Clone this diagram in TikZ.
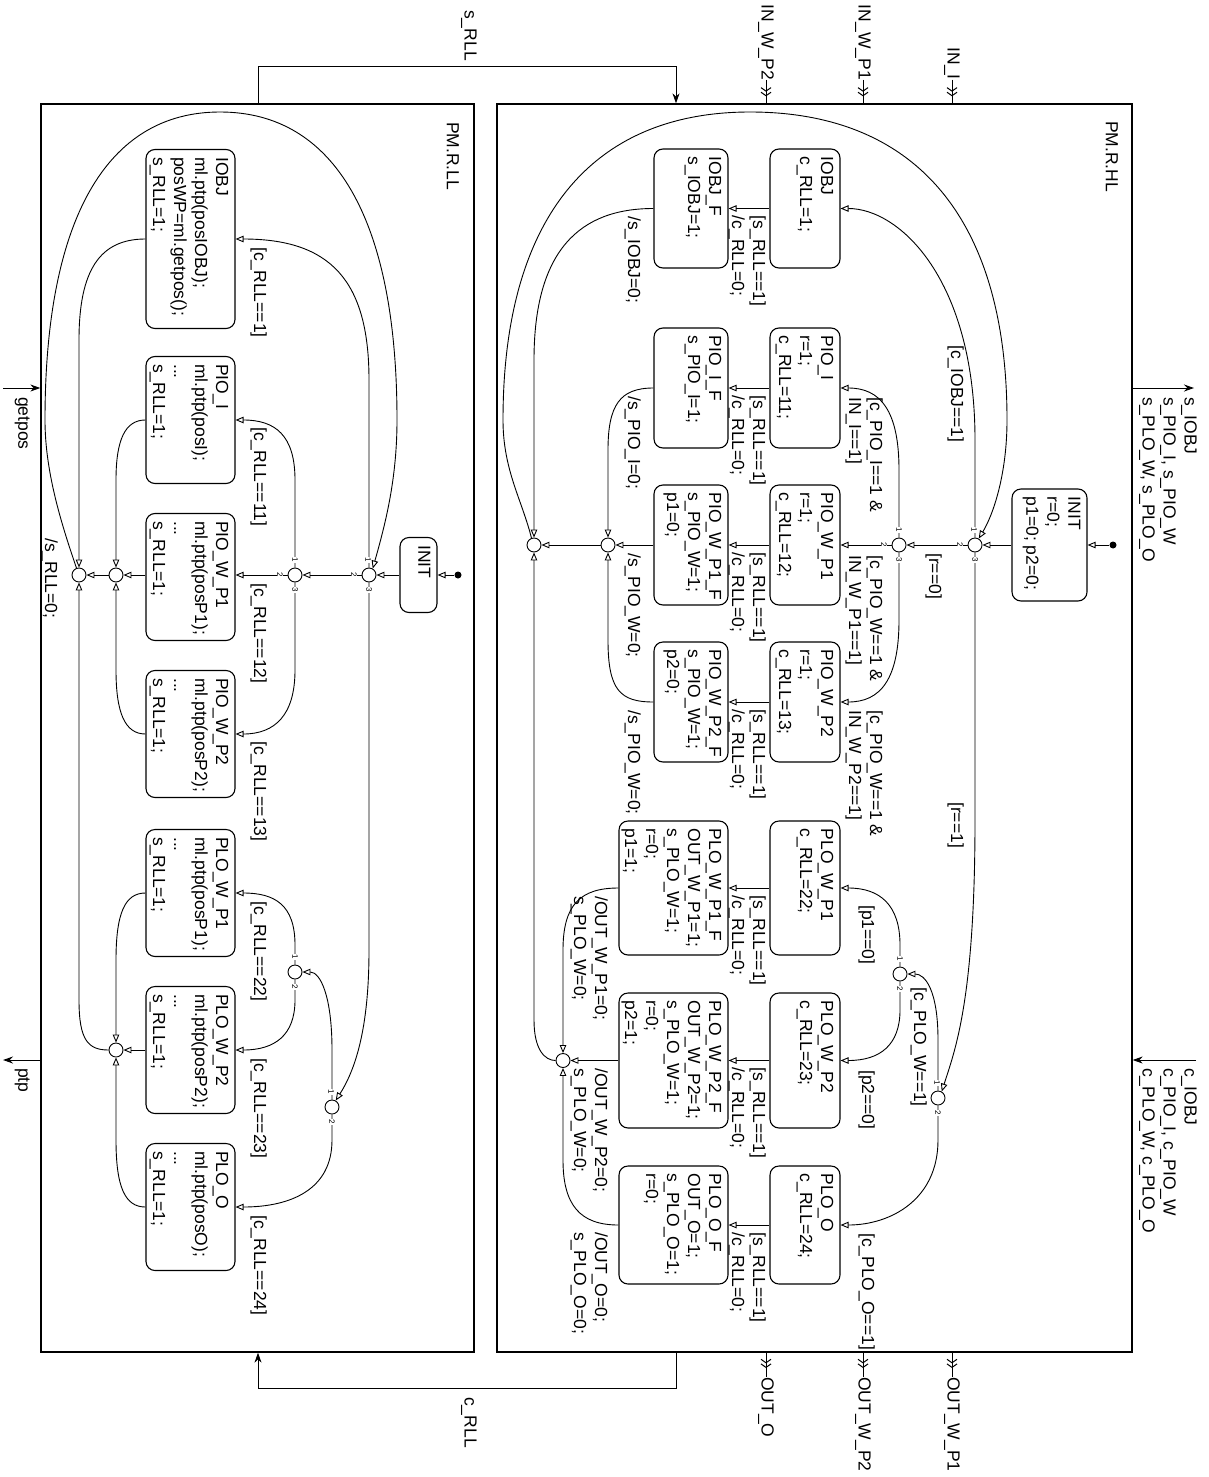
\documentclass[tikz,border=0pt]{standalone}
\usepackage{fontspec}
\setmainfont{Liberation Sans}
\usetikzlibrary{arrows.meta,calc}
\newcommand{\mkst}[6]{%
  \node[xst,minimum width=#4pt,minimum height=#5pt] (#1) at (#2,#3) {};
  \node[xtx] (t#1) at ($(#1.north east)+(-7,8)$) {#6};}
\begin{document}
\begin{tikzpicture}[x=1pt,y=-1pt,
  font=\fontsize{17.5}{21}\selectfont,
  xst/.style={draw,rounded corners=9pt,line width=1.1pt,inner sep=0pt},
  xtx/.style={rotate=-90,anchor=north west,align=left,inner sep=0pt},
  xjn/.style={circle,draw,line width=0.9pt,minimum size=14pt,inner sep=0pt},
  xnum/.style={rotate=-90,font=\fontsize{8}{9}\selectfont,fill=white,inner sep=0.5pt},
  xln/.style={line width=0.9pt},
  xtr/.style={line width=0.9pt,-{Triangle[open,length=8pt,width=6.5pt]}},
  xdbl/.style={line width=1pt,-{Straight Barb[length=3.5pt,width=10pt]Straight Barb[length=3.5pt,width=10pt]}},
  xsig/.style={line width=1pt,-{Stealth[length=10pt,width=7pt]}},
  xcont/.style={draw,line width=1.3pt,inner sep=0pt},
  xdot/.style={circle,fill,minimum size=7pt,inner sep=0pt},
  xio/.style={rotate=-90,inner sep=0pt}
]
\useasboundingbox (0,0) rectangle (1208,1477);

% containers
\node[xcont,minimum width=635pt,minimum height=1248pt] (hl) at (814.5,728) {};
\node[xcont,minimum width=433pt,minimum height=1248pt] (ll) at (257.5,728) {};
\node[xtx] (hlname) at (1118,121) {PM.R.HL};
\node[xtx] (llname) at (459,122) {PM.R.LL};

% inputs / outputs of HL
\node[xio,anchor=east] (inI) at (952,80) {IN\_I};
\node[xio,anchor=east] (inWa) at (863,80) {IN\_W\_P1};
\node[xio,anchor=east] (inWb) at (766,80) {IN\_W\_P2};
\foreach \n in {inI,inWa,inWb}{
  \draw[xln] (\n.east) -- (\n.east |- hl.north);
  \draw[xdbl,shorten >=7pt] (\n.east) -- (\n.east |- hl.north);}
\node[xio,anchor=west] (outO) at (766,1377) {OUT\_O};
\node[xio,anchor=west] (outWb) at (863,1377) {OUT\_W\_P2};
\node[xio,anchor=west] (outWa) at (952,1377) {OUT\_W\_P1};
\foreach \n in {outO,outWb,outWa}{
  \draw[xln] (\n.west |- hl.south) -- (\n.west);
  \draw[xdbl,shorten >=9pt] (\n.west |- hl.south) -- (\n.west);}

\node[xtx] (sout) at (1197,397) {s\_IOBJ\\s\_PIO\_I, s\_PIO\_W\\s\_PLO\_W, s\_PLO\_O};
\coordinate (soutE) at (1194,388);
\draw[xsig] (soutE -| hl.east) -- (soutE);
\node[xtx] (cin) at (1197,1068) {c\_IOBJ\\c\_PIO\_I, c\_PIO\_W\\c\_PLO\_W, c\_PLO\_O};
\coordinate (cinS) at (1196,1060);
\draw[xsig] (cinS) -- (cinS -| hl.east);

\node[xtx] (gp) at (30,397) {getpos};
\coordinate (gpS) at (3,388);
\draw[xsig] (gpS) -- (gpS -| ll.west);
\node[xtx] (ptp) at (30,1068) {ptp};
\coordinate (ptpE) at (3,1060);
\draw[xsig] (ptpE -| ll.west) -- (ptpE);

\coordinate (sA) at (258,67); \coordinate (sB) at (676,67);
\draw[xsig] (sA |- ll.north) -- (sA) -- (sB) -- (sB |- hl.north);
\node[xio,anchor=east] (sRLL) at (469,61) {s\_RLL};
\coordinate (cA) at (676,1388); \coordinate (cB) at (258,1388);
\draw[xsig] (cA |- hl.south) -- (cA) -- (cB) -- (cB |- ll.south);
\node[xio,anchor=west] (cRLL) at (469,1397) {c\_RLL};

% HL states
\mkst{hINIT}{1049.5}{545}{75}{112}{INIT\\r=0;\\p1=0; p2=0;}
\mkst{hIOBJ}{805}{208.5}{70}{119}{IOBJ\\c\_RLL=1;}
\mkst{hPIOI}{805}{388}{70}{120}{PIO\_I\\r=1;\\c\_RLL=11;}
\mkst{hPIOWa}{805}{545}{70}{120}{PIO\_W\_P1\\r=1;\\c\_RLL=12;}
\mkst{hPIOWb}{805}{702}{70}{120}{PIO\_W\_P2\\r=1;\\c\_RLL=13;}
\mkst{hPLOWa}{805}{888}{70}{134}{PLO\_W\_P1\\c\_RLL=22;}
\mkst{hPLOWb}{805}{1060.5}{70}{135}{PLO\_W\_P2\\c\_RLL=23;}
\mkst{hPLOO}{805}{1225}{70}{118}{PLO\_O\\c\_RLL=24;}
\mkst{fIOBJ}{691}{208.5}{74}{119}{IOBJ\_F\\s\_IOBJ=1;}
\mkst{fPIOI}{691}{388}{74}{120}{PIO\_I\_F\\s\_PIO\_I=1;}
\mkst{fPIOWa}{691}{545}{74}{120}{PIO\_W\_P1\_F\\s\_PIO\_W=1;\\p1=0;}
\mkst{fPIOWb}{691}{702}{74}{120}{PIO\_W\_P2\_F\\s\_PIO\_W=1;\\p2=0;}
\mkst{fPLOWa}{673.5}{888}{109}{134}{PLO\_W\_P1\_F\\OUT\_W\_P1=1;\\s\_PLO\_W=1;\\r=0;\\p1=1;}
\mkst{fPLOWb}{673.5}{1060.5}{109}{135}{PLO\_W\_P2\_F\\OUT\_W\_P2=1;\\s\_PLO\_W=1;\\r=0;\\p2=1;}
\mkst{fPLOO}{673.5}{1225}{109}{118}{PLO\_O\_F\\OUT\_O=1;\\s\_PLO\_O=1;\\r=0;}

% LL states
\mkst{lINIT}{418.5}{575}{37}{75}{INIT}
\mkst{lIOBJ}{190.5}{239}{89}{179}{IOBJ\\ml.ptp(posIOBJ);\\posWP=ml.getpos();\\s\_RLL=1;}
\mkst{lPIOI}{190.5}{420}{89}{127}{PIO\_I\\ml.ptp(posI);\\...\\s\_RLL=1;}
\mkst{lPIOWa}{190.5}{577}{89}{127}{PIO\_W\_P1\\ml.ptp(posP1);\\...\\s\_RLL=1;}
\mkst{lPIOWb}{190.5}{734}{89}{127}{PIO\_W\_P2\\ml.ptp(posP2);\\...\\s\_RLL=1;}
\mkst{lPLOWa}{190.5}{893}{89}{127}{PLO\_W\_P1\\ml.ptp(posP1);\\...\\s\_RLL=1;}
\mkst{lPLOWb}{190.5}{1050}{89}{127}{PLO\_W\_P2\\ml.ptp(posP2);\\...\\s\_RLL=1;}
\mkst{lPLOO}{190.5}{1207}{89}{127}{PLO\_O\\ml.ptp(posO);\\...\\s\_RLL=1;}

% junctions
\node[xjn] (J1) at (975,545) {};
\node[xjn] (J2) at (899,545) {};
\node[xjn] (J3) at (938,1098) {};
\node[xjn] (J4) at (900,974) {};
\node[xjn] (J5) at (534,545) {};
\node[xjn] (J6) at (608,545) {};
\node[xjn] (J7) at (563,1060.5) {};
\node[xdot] (hdot) at (1113,545) {};
\node[xjn] (K1) at (369,575) {};
\node[xjn] (K2) at (295,575) {};
\node[xjn] (K3) at (295,972) {};
\node[xjn] (K4) at (332,1107) {};
\node[xjn] (K5) at (79,575) {};
\node[xjn] (K6) at (116,575) {};
\node[xjn] (K7) at (116,1050) {};
\node[xdot] (ldot) at (458,575) {};

% HL transitions
\draw[xtr] (hdot) -- (hdot -| hINIT.east);
\draw[xtr] (hINIT.west) -- (J1);
\draw[xtr] (J1.north) -- (975,440) .. controls (975,280) and (900,208.5) .. (hIOBJ.east);
\draw[xtr] (J1) -- (J2);
\draw[xtr] (J1.south) -- (975,820) .. controls (975,1000) and (955,1050) .. (J3.60);
\draw[xtr] (J2.north) -- (899,470) .. controls (899,410) and (880,388) .. (hPIOI.east);
\draw[xtr] (J2.west) -- (hPIOWa.east);
\draw[xtr] (J2.south) -- (899,620) .. controls (899,680) and (880,702) .. (hPIOWb.east);
\draw[xtr] (J3.north) -- (938,1040) .. controls (938,990) and (925,974) .. (J4.east);
\draw[xtr] (J4.north) -- (900,945) .. controls (900,905) and (880,888) .. (hPLOWa.east);
\draw[xtr] (J4.south) -- (900,1010) .. controls (900,1045) and (880,1060.5) .. (hPLOWb.east);
\draw[xtr] (J3.south) -- (938,1140) .. controls (938,1200) and (890,1225) .. (hPLOO.east);
\foreach \a/\b in {hIOBJ/fIOBJ,hPIOI/fPIOI,hPIOWa/fPIOWa,hPIOWb/fPIOWb,hPLOWa/fPLOWa,hPLOWb/fPLOWb,hPLOO/fPLOO}
  \draw[xtr] (\a.west) -- (\b.east);
\draw[xtr] (fIOBJ.west) .. controls (580,208.5) and (534,250) .. (534,360) -- (J5.north);
\draw[xtr] (fPIOI.west) .. controls (620,388) and (608,405) .. (608,450) -- (J6.north);
\draw[xtr] (fPIOWa.west) -- (J6.east);
\draw[xtr] (fPIOWb.west) .. controls (620,702) and (608,690) .. (608,640) -- (J6.south);
\draw[xtr] (J6.west) -- (J5.east);
\draw[xtr] (fPLOWa.west) .. controls (580,888) and (563,905) .. (563,950) -- (J7.north);
\draw[xtr] (fPLOWb.west) -- (J7.east);
\draw[xtr] (fPLOO.west) .. controls (580,1225) and (563,1205) .. (563,1160) -- (J7.south);
\draw[xtr] (J7.west) .. controls (545,1060.5) and (534,1050) .. (534,1020) -- (J5.south);
\draw[xtr] (J5.110) .. controls (522,500) and (503,470) .. (503,420)
  .. controls (503,220) and (590,112) .. (750,112)
  .. controls (917,112) and (1007,220) .. (1007,420)
  .. controls (1007,475) and (993,515) .. (J1.60);

% LL transitions
\draw[xtr] (ldot) -- (ldot -| lINIT.east);
\draw[xtr] (lINIT.west) -- (K1);
\draw[xtr] (K1.north) -- (369,380) .. controls (369,280) and (330,239) .. (lIOBJ.east);
\draw[xtr] (K1) -- (K2);
\draw[xtr] (K1.south) -- (369,950) .. controls (369,1030) and (355,1070) .. (K4.60);
\draw[xtr] (K2.north) -- (295,480) .. controls (295,435) and (275,420) .. (lPIOI.east);
\draw[xtr] (K2.west) -- (K2 -| lPIOWa.east);
\draw[xtr] (K2.south) -- (295,670) .. controls (295,715) and (275,734) .. (lPIOWb.east);
\draw[xtr] (K4.north) -- (332,1050) .. controls (332,995) and (320,972) .. (K3.east);
\draw[xtr] (K3.north) -- (295,945) .. controls (295,905) and (275,893) .. (lPLOWa.east);
\draw[xtr] (K3.south) -- (295,1000) .. controls (295,1035) and (275,1050) .. (lPLOWb.east);
\draw[xtr] (K4.south) -- (332,1140) .. controls (332,1190) and (290,1207) .. (lPLOO.east);
\draw[xtr] (lIOBJ.west) .. controls (100,239) and (79,270) .. (79,340) -- (K5.north);
\draw[xtr] (lPIOI.west) .. controls (125,420) and (116,440) .. (116,480) -- (K6.north);
\draw[xtr] (K6 -| lPIOWa.west) -- (K6.east);
\draw[xtr] (lPIOWb.west) .. controls (125,734) and (116,713) .. (116,670) -- (K6.south);
\draw[xtr] (K6.west) -- (K5.east);
\draw[xtr] (lPLOWa.west) .. controls (125,893) and (116,913) .. (116,960) -- (K7.north);
\draw[xtr] (lPLOWb.west) -- (K7.east);
\draw[xtr] (lPLOO.west) .. controls (125,1207) and (116,1187) .. (116,1140) -- (K7.south);
\draw[xtr] (K7.west) .. controls (88,1050) and (79,1040) .. (79,1000) -- (K5.south);
\draw[xtr] (K5.110) .. controls (60,520) and (45,470) .. (45,420)
  .. controls (45,220) and (106,112) .. (220,112)
  .. controls (335,112) and (397,220) .. (397,420)
  .. controls (397,480) and (385,525) .. (K1.60);

% HL labels
\node[xtx] (lb1) at (964,345) {[c\_IOBJ==1]};
\node[xtx] (lb2) at (942,553) {[r==0]};
\node[xtx] (lb3) at (964,802) {[r==1]};
\node[xtx] (lb4) at (883,397) {[c\_PIO\_I==1 \&\\IN\_I==1]};
\node[xtx] (lb5) at (883,555) {[c\_PIO\_W==1 \&\\IN\_W\_P1==1]};
\node[xtx] (lb6) at (883,710) {[c\_PIO\_W==1 \&\\IN\_W\_P2==1]};
\node[xtx] (lb7) at (927,987) {[c\_PLO\_W==1]};
\node[xtx] (lb8) at (875,905) {[p1==0]};
\node[xtx] (lb9) at (875,1070) {[p2==0]};
\node[xtx] (lb10) at (875,1233) {[c\_PLO\_O==1]};
\foreach \y [count=\i] in {208.5,388,545,702,888,1060.5,1225}
  \node[xtx] (sl\i) at (766,\y+7) {[s\_RLL==1]\\/c\_RLL=0;};
\node[xtx] (el1) at (641,216) {/s\_IOBJ=0;};
\node[xtx] (el2) at (641,396) {/s\_PIO\_I=0;};
\node[xtx] (el3) at (641,553) {/s\_PIO\_W=0;};
\node[xtx] (el4) at (641,710) {/s\_PIO\_W=0;};
\node[xtx] (el5) at (608,896) {/OUT\_W\_P1=0;\\s\_PLO\_W=0;};
\node[xtx] (el6) at (608,1068) {/OUT\_W\_P2=0;\\s\_PLO\_W=0;};
\node[xtx] (el7) at (608,1232) {/OUT\_O=0;\\s\_PLO\_O=0;};

% LL labels
\node[xtx] (ll1) at (267,247) {[c\_RLL==1]};
\node[xtx] (ll2) at (267,427) {[c\_RLL==11]};
\node[xtx] (ll3) at (267,583) {[c\_RLL==12]};
\node[xtx] (ll4) at (267,741) {[c\_RLL==13]};
\node[xtx] (ll5) at (267,901) {[c\_RLL==22]};
\node[xtx] (ll6) at (267,1058) {[c\_RLL==23]};
\node[xtx] (ll7) at (267,1215) {[c\_RLL==24]};
\node[xtx] (ll8) at (58,538) {/s\_RLL=0;};

% junction numbers
\node[xnum] (a1) at (974,530) {1}; \node[xnum] (a2) at (960,545) {2}; \node[xnum] (a3) at (975,560) {3};
\node[xnum] (b1) at (899,530) {1}; \node[xnum] (b2) at (884,545) {2}; \node[xnum] (b3) at (899,560) {3};
\node[xnum] (c1) at (937,1083) {1}; \node[xnum] (c2) at (938,1113) {2};
\node[xnum] (d1) at (900,959) {1}; \node[xnum] (d2) at (900,989) {2};
\node[xnum] (e1) at (368,560) {1}; \node[xnum] (e2) at (354,575) {2}; \node[xnum] (e3) at (369,590) {3};
\node[xnum] (f1) at (295,560) {1}; \node[xnum] (f2) at (280,575) {2}; \node[xnum] (f3) at (295,590) {3};
\node[xnum] (g1) at (295,957) {1}; \node[xnum] (g2) at (295,987) {2};
\node[xnum] (h1) at (331,1092) {1}; \node[xnum] (h2) at (332,1122) {2};
\end{tikzpicture}
\end{document}
